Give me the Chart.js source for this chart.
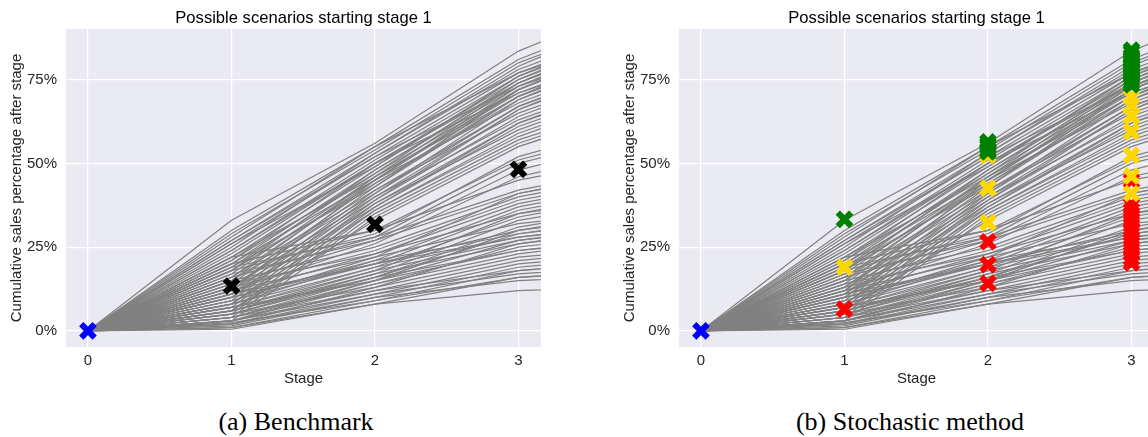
<!DOCTYPE html>
<html>
<head>
<meta charset="utf-8">
<script src="https://cdn.jsdelivr.net/npm/chart.js@4.4.1/dist/chart.umd.min.js"></script>
<style>
    html, body { margin: 0; padding: 0; overflow: hidden; background: #fff; }
    body { position: relative; width: 1148px; height: 437px; }
    .box { position: absolute; top: 0; height: 395px; }
    #boxA { left: 0; width: 574px; }
    #boxB { left: 574px; width: 600px; }
    .caption {
        position: absolute; top: 407px; transform: translateX(-50%);
        font-family: "Liberation Serif", "DejaVu Serif", serif; font-size: 26px;
        color: #000; white-space: nowrap;
    }
</style>
</head>
<body>
<div class="box" id="boxA"><canvas id="chartA"></canvas></div>
<div class="box" id="boxB"><canvas id="chartB"></canvas></div>
<div class="caption" style="left:296px">(a) Benchmark</div>
<div class="caption" style="left:910px">(b) Stochastic method</div>
<script>
// stages on the x axis (stage 4 is only there so lines run past the right edge)
const stages = [0, 1, 2, 3, 4];
const stageTicks = [0, 1, 2, 3];
const pctTicks = [0, 25, 50, 75];
const titleText = 'Possible scenarios starting stage 1';

// cumulative sales % of every scenario after stage 1, 2, 3, 4
const stage1 = [33, 30, 29, 27, 26, 25, 24, 23, 22, 21, 20, 19, 18, 17, 16, 15, 14, 13, 12, 11, 10, 9, 8, 7, 6, 5, 4, 3,
    27, 24, 21, 18, 16, 13, 10, 28, 22, 19, 15, 11, 26, 20, 8, 12, 6,
    20, 18, 16, 14, 12, 22, 19, 17, 15, 13, 11, 9, 8, 10, 7, 6, 5, 4, 3, 12, 10, 8, 7, 6, 5, 4, 3, 2,
    9, 6, 4, 3, 2, 1.5, 1, 0.5, 3, 2, 1, 5, 14, 11, 7, 4, 2.5];
const stage2 = [56, 55, 54, 53, 52, 53, 51, 50, 49, 50, 48, 47, 48, 46, 45, 46, 44, 43, 45, 42, 41, 40, 39, 38, 37, 36, 35, 34,
    52, 50, 47, 44, 42, 40, 38, 55, 46, 43, 41, 37, 49, 45, 36, 39, 33,
    30, 29, 28, 27, 26, 30, 28, 27, 25, 24, 23, 22, 21, 20, 19, 18, 17, 16, 15, 22, 21, 19, 18, 17, 16, 15, 14, 13,
    20, 16, 14, 12, 11, 10, 9, 8, 11, 10, 8, 13, 23, 20, 15, 12, 9];
const stage3 = [83.5, 81, 80, 78, 77, 79, 76, 75, 76, 74, 73, 72, 74, 71, 72, 70, 69, 70, 68, 67, 69, 66, 64, 62, 61, 58, 57, 56,
    73, 71, 75, 70, 65, 63, 60, 77, 74, 72, 67, 62, 76, 73, 59, 66, 55,
    51, 52, 50, 48, 46, 45, 42, 41, 40, 39, 38, 41, 37, 36, 34, 35, 33, 31, 30, 32, 29, 28, 27, 26, 29, 27, 25, 26,
    28, 24, 23, 21, 20, 19, 18, 16, 17, 15, 12, 22, 35, 30, 24, 18, 16];
const stage4 = [101, 98, 96, 94, 93, 97, 92, 91, 93, 90, 89, 88, 91, 87, 89, 86, 85, 88, 84, 83, 87, 82, 80, 77, 76, 73, 71, 70,
    87, 85, 93, 86, 80, 78, 75, 91, 92, 90, 83, 78, 94, 91, 74, 84, 69,
    62, 64, 61, 59, 56, 53, 50, 49, 48, 47, 46, 50, 45, 44, 42, 43, 40, 38, 37, 37, 34, 33, 32, 31, 35, 33, 30, 32,
    32, 28, 28, 25, 24, 23, 22, 19, 20, 17, 13.5, 26, 41, 35, 29, 21, 18];

// markers
const startStage = [0];
const startVals = [0];
const meanStages = [1, 2, 3];
const meanVals = [13.4, 31.8, 48.2];

const greenStages = [1, 2, 2, 2, 2, 2, 3, 3, 3, 3, 3, 3, 3, 3, 3, 3, 3, 3, 3, 3];
const greenVals = [33.3, 56.4, 55.6, 54.9, 54.0, 53.4, 83.8, 83.1, 82.0, 81.4, 80.5, 79.8, 79.0, 78.1, 77.5, 76.6, 75.9, 75.0, 74.2, 73.4];
const goldStages = [1, 2, 2, 2, 3, 3, 3, 3, 3, 3, 3];
const goldVals = [19.0, 52.4, 42.6, 32.3, 69.8, 67.3, 64.0, 59.5, 52.4, 46.2, 41.0];
const redStages = [1, 2, 2, 2, 3, 3, 3, 3, 3, 3, 3, 3, 3, 3, 3, 3];
const redVals = [6.5, 26.6, 19.8, 14.2, 44.8, 37.6, 36.0, 34.2, 32.5, 30.4, 28.8, 26.9, 25.0, 23.2, 21.6, 20.3];

Chart.defaults.font.family = '"Liberation Sans", Arial, sans-serif';
Chart.defaults.color = '#262626';

// grey plot background + title centred over the plot area (like matplotlib)
const areaBg = {
    id: 'areaBg',
    beforeDraw(chart) {
        const a = chart.chartArea;
        const ctx = chart.ctx;
        ctx.save();
        ctx.fillStyle = '#eaeaf2';
        ctx.fillRect(a.left, a.top, a.right - a.left, a.bottom - a.top);
        ctx.fillStyle = '#000';
        ctx.font = '16.6px "Liberation Sans", Arial, sans-serif';
        ctx.textAlign = 'center';
        ctx.textBaseline = 'alphabetic';
        ctx.fillText(titleText, (a.left + a.right) / 2, 23);
        ctx.restore();
    }
};

function scenarioSets() {
    return stage1.map((_, i) => {
        const vals = [0, stage1[i], stage2[i], stage3[i], stage4[i]];
        return {
            type: 'line',
            data: vals.map((v, k) => ({ x: stages[k], y: v })),
            borderColor: '#808080',
            borderWidth: 1.2,
            pointRadius: 0,
            tension: 0,
            order: 10
        };
    });
}

function markerSet(xs, ys, color, order) {
    return {
        type: 'scatter',
        data: xs.map((x, k) => ({ x: x, y: ys[k] })),
        pointStyle: 'crossRot',
        pointRadius: 9.5,
        pointBorderWidth: 6,
        borderColor: color,
        backgroundColor: color,
        order: order
    };
}

function makeChart(id, padLeft, padRight, markers) {
    return new Chart(document.getElementById(id), {
        type: 'line',
        data: { datasets: scenarioSets().concat(markers) },
        options: {
            responsive: true,
            maintainAspectRatio: false,
            animation: false,
            events: [],
            layout: { padding: { left: padLeft, right: padRight, top: 29, bottom: 0 } },
            plugins: {
                legend: { display: false },
                tooltip: { enabled: false },
                title: { display: false }
            },
            scales: {
                x: {
                    type: 'linear',
                    min: -0.153,
                    max: 3.157,
                    afterBuildTicks: s => { s.ticks = stageTicks.map(v => ({ value: v })); },
                    afterFit: s => { s.height = 48; },
                    ticks: { font: { size: 15 }, padding: 5, callback: v => String(v) },
                    grid: { color: '#ffffff', lineWidth: 1.2, drawTicks: false },
                    border: { display: false },
                    title: { display: true, text: 'Stage', font: { size: 15 }, padding: { top: 0, bottom: 7 } }
                },
                y: {
                    min: -4.8,
                    max: 90.1,
                    afterBuildTicks: s => { s.ticks = pctTicks.map(v => ({ value: v })); },
                    afterFit: s => { s.width = 66; },
                    ticks: { font: { size: 15 }, padding: 9, callback: v => v + '%' },
                    grid: { color: '#ffffff', lineWidth: 1.2, drawTicks: false },
                    border: { display: false },
                    title: { display: true, text: 'Cumulative sales percentage after stage', font: { size: 15 }, padding: { top: 7.5, bottom: 0 } }
                }
            }
        },
        plugins: [areaBg]
    });
}

makeChart('chartA', 0, 33, [
    markerSet(startStage, startVals, '#0000ff', 0),
    markerSet(meanStages, meanVals, '#000000', 1)
]);

makeChart('chartB', 39, 20, [
    markerSet(startStage, startVals, '#0000ff', 0),
    markerSet(greenStages, greenVals, '#008000', 1),
    markerSet(goldStages, goldVals, '#ffd700', 2),
    markerSet(redStages, redVals, '#ff0000', 3)
]);
</script>
</body>
</html>
